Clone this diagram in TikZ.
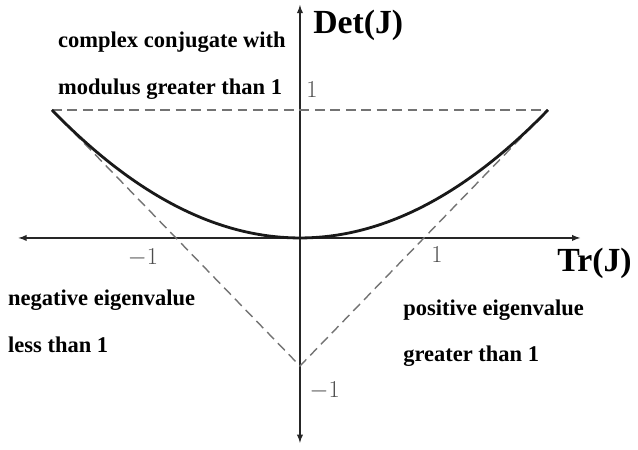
\documentclass[tikz,border=0pt]{standalone}
\usepackage{fontspec}
\setmainfont{Liberation Serif}
\usepackage{tikz}
\usetikzlibrary{arrows}
\tikzstyle{axis} = [draw, latex-latex, line width=1pt, black!85]
\tikzstyle{bound} = [draw, dash pattern=on 7pt off 4pt, line width=1pt, black!55]
\tikzstyle{curve} = [draw, line width=2pt, black!90]
\tikzstyle{axlabel} = [anchor=west, inner sep=0pt, font=\fontsize{24}{28}\selectfont\bfseries]
\tikzstyle{ticklabel} = [text=black!70, font=\fontsize{18}{21}\selectfont]
\tikzstyle{regiontext} = [anchor=base west, inner sep=0pt, font=\fontsize{16}{19}\selectfont\bfseries]

\begin{document}
\begin{tikzpicture}[x=3.1cm, y=3.2cm]
    \useasboundingbox (-2.419, -1.656) rectangle (2.726, 1.859);
    % axes
    \coordinate (xl) at (-2.27, 0);
    \coordinate (xr) at (2.26, 0);
    \coordinate (yb) at (0, -1.60);
    \coordinate (yt) at (0, 1.82);
    \path[axis] (xl) -- (xr);
    \path[axis] (yb) -- (yt);
    \node[axlabel] at (2.073, -0.195) (tr) {Tr(J)};
    \node[axlabel] at (0.105, 1.664) (det) {Det(J)};
    
    % stability triangle
    \coordinate (tl) at (-2, 1);
    \coordinate (tr) at (2, 1);
    \coordinate (bot) at (0, -1);
    \path[bound] (tl) -- (tr);
    \path[bound] (tl) -- (bot) -- (tr);
    \path[curve] plot[domain=-2:2, samples=60, smooth] (\x, {\x*\x/4});
    
    \node[ticklabel] at (0.097, 1.156) (yone) {$1$};
    \node[ticklabel] at (0.2, -1.195) (ymone) {$-1$};
    \node[ticklabel] at (-1.266, -0.156) (xmone) {$-1$};
    \node[ticklabel] at (1.105, -0.133) (xone) {$1$};
    
    % regions
    \node[regiontext] at (-1.952, 1.484) (cc1) {complex conjugate with};
    \node[regiontext] at (-1.952, 1.117) (cc2) {modulus greater than 1};
    \node[regiontext] at (-2.355, -0.531) (ne1) {negative eigenvalue};
    \node[regiontext] at (-2.355, -0.891) (ne2) {less than 1};
    \node[regiontext] at (0.831, -0.602) (pe1) {positive eigenvalue};
    \node[regiontext] at (0.831, -0.969) (pe2) {greater than 1};
    
\end{tikzpicture}
\end{document}
